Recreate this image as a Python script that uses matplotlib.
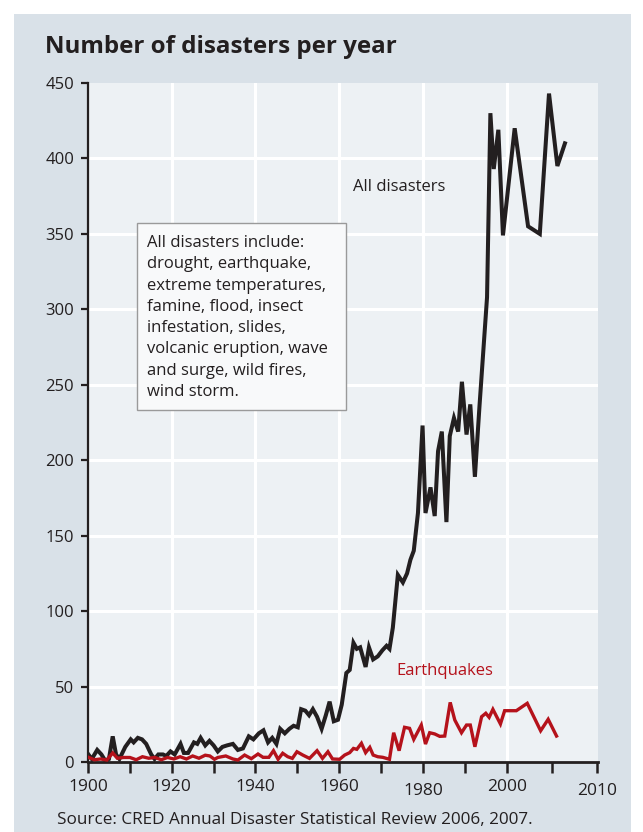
import matplotlib.pyplot as plt
from matplotlib.patches import Rectangle
from matplotlib.transforms import ScaledTranslation

# Data (x positions follow the chart's own year axis)
all_years = [1900.1, 1900.9, 1902.2, 1903.2, 1904.1, 1905.0, 1905.9, 1906.7, 1907.5, 1908.9,
             1910.2, 1910.9, 1911.9, 1912.9, 1913.9, 1915.1, 1915.9, 1916.8, 1917.9, 1918.7,
             1919.7, 1920.7, 1922.1, 1922.9, 1923.9, 1925.3, 1926.1, 1926.9, 1928.0, 1929.0,
             1930.0, 1931.0, 1932.1, 1933.2, 1934.6, 1935.8, 1937.0, 1938.4, 1939.5, 1940.8,
             1941.9, 1943.0, 1944.0, 1945.0, 1945.9, 1947.0, 1948.1, 1949.1, 1950.1, 1950.9,
             1951.9, 1952.8, 1953.7, 1954.7, 1955.8, 1956.8, 1957.7, 1958.7, 1959.7, 1960.6,
             1961.7, 1962.5, 1963.4, 1964.2, 1965.0, 1966.3, 1967.1, 1968.1, 1969.2, 1970.3,
             1971.3, 1972.0, 1972.8, 1974.0, 1975.2, 1976.2, 1977.0, 1977.8, 1978.8, 1979.9,
             1980.6, 1981.8, 1982.8, 1983.6, 1984.5, 1985.6, 1986.4, 1987.4, 1988.4, 1989.3,
             1990.4, 1991.3, 1992.4, 1993.5, 1994.3, 1995.3, 1996.1, 1996.9, 1998.0, 1999.1,
             2001.9, 2005.1, 2007.9, 2010.1, 2012.1, 2013.9]
all_values = [5, 2, 8, 5, 1, 2, 17, 5, 2, 10,
              15, 13, 16, 15, 12, 5, 2, 5, 5, 4,
              7, 5, 12, 6, 6, 13, 12, 16, 11, 14,
              11, 7, 10, 11, 12, 8, 9, 17, 15, 19,
              21, 13, 16, 12, 22, 19, 22, 24, 23, 35,
              34, 31, 35, 30, 22, 31, 40, 27, 28, 38,
              59, 61, 79, 75, 76, 63, 76, 68, 70, 74,
              77, 75, 89, 124, 119, 125, 134, 140, 165, 223,
              165, 182, 163, 206, 219, 159, 216, 228, 219, 252,
              217, 237, 189, 236, 268, 308, 430, 393, 419, 349,
              420, 355, 350, 443, 395, 410]

eq_years = [1900.2, 1901.5, 1903.0, 1904.5, 1905.9, 1907.0, 1908.5, 1910.0, 1911.5, 1913.0,
            1914.5, 1916.0, 1917.5, 1919.0, 1920.5, 1922.0, 1923.5, 1925.0, 1926.5, 1928.0,
            1929.1, 1930.2, 1931.0, 1932.9, 1934.6, 1935.8, 1937.4, 1939.0, 1940.6, 1941.8,
            1943.2, 1944.3, 1945.4, 1946.5, 1947.7, 1948.8, 1949.9, 1951.3, 1952.9, 1954.7,
            1956.0, 1957.3, 1958.4, 1960.1, 1961.3, 1962.5, 1963.4, 1964.2, 1965.3, 1966.3,
            1967.3, 1968.1, 1969.2, 1970.4, 1972.0, 1973.0, 1974.3, 1975.6, 1976.8, 1977.8,
            1979.6, 1980.6, 1981.6, 1982.8, 1984.0, 1985.2, 1986.5, 1987.6, 1989.2, 1990.4,
            1991.3, 1992.4, 1994.0, 1995.0, 1995.8, 1996.7, 1998.5, 1999.5, 2002.3, 2004.9,
            2008.1, 2009.9, 2011.9]
eq_values = [3, 1.5, 2, 1.3, 6, 2.5, 3, 3, 1.5, 3.5,
             2.5, 3, 1.5, 3, 2, 3.5, 2, 4, 2.5, 4.5,
             4, 1.8, 3, 4, 2, 1.3, 4.6, 2.2, 5.3, 3.1,
             3.1, 7.5, 1.8, 5.8, 3.5, 2.4, 6.8, 4.6, 2.4, 7.5,
             2.4, 6.8, 2, 1.8, 4.6, 6.2, 9, 8.4, 12.4, 6.2,
             9.7, 4.6, 3.5, 3.1, 1.8, 19.4, 7.5, 23, 22.3, 15,
             24.5, 11.9, 19.4, 18.6, 17, 17.2, 39.5, 27.8, 19.4, 24.5,
             24.5, 10.1, 30, 32.3, 29.6, 34.9, 25.2, 34, 34, 38.9,
             20.7, 28.3, 17.2]

x_ticks = [1900, 1910, 1920, 1930, 1940, 1950, 1960, 1970, 1980, 1990, 2000, 2010.8, 2021.5]
x_labels = ["1900", "", "1920", "", "1940", "", "1960", "", "1980", "", "2000", "", "2010"]
x_grid = [1920, 1940, 1960, 1980, 2000]
y_ticks = [0, 50, 100, 150, 200, 250, 300, 350, 400, 450]
y_grid = [50, 100, 150, 200, 250, 300, 350, 400]

box_text = ("All disasters include:\ndrought, earthquake,\nextreme temperatures,\n"
            "famine, flood, insect\ninfestation, slides,\nvolcanic eruption, wave\n"
            "and surge, wild fires,\nwind storm.")

dark = "#231f20"
red = "#b5121b"
plt.rcParams["font.family"] = ["Open Sans", "DejaVu Sans"]

fig = plt.figure(figsize=(6.43, 8.32), dpi=100)
fig.patch.set_facecolor("white")
# grey panel behind everything
fig.patches.append(Rectangle((14 / 643, 0), 617 / 643, 818 / 832, transform=fig.transFigure,
                             facecolor="#d9e1e8", edgecolor="none", zorder=-10))

ax = fig.add_axes([88 / 643, 1 - 762 / 832, 510 / 643, 679 / 832])
ax.set_facecolor("#edf1f4")

for g in x_grid:
    ax.axvline(g, color="white", lw=2.2, zorder=1)
for g in y_grid:
    ax.axhline(g, color="white", lw=2.2, zorder=1)

ax.plot(all_years, all_values, color=dark, lw=2.9, zorder=3, solid_joinstyle="miter")
ax.plot(eq_years, eq_values, color=red, lw=2.4, zorder=3, solid_joinstyle="miter")

ax.set_xlim(1900, 2021.8)
ax.set_ylim(0, 450)
ax.set_xticks(x_ticks)
ax.set_xticklabels(x_labels)
ax.set_yticks(y_ticks)

for s in ["top", "right"]:
    ax.spines[s].set_visible(False)
ax.spines["left"].set_linewidth(1.6)
ax.spines["bottom"].set_linewidth(2)
ax.spines["left"].set_color(dark)
ax.spines["bottom"].set_color(dark)
ax.tick_params(axis="x", length=8, width=1.8, color=dark, pad=4, labelsize=12.5, labelcolor=dark)
ax.tick_params(axis="y", length=5, width=1.6, color=dark, pad=5, labelsize=12, labelcolor=dark)

# 1980 and 2010 sit a little lower in the original
for lab in ax.get_xticklabels():
    if lab.get_text() in ("1980", "2010"):
        lab.set_transform(lab.get_transform() + ScaledTranslation(0, -3 / 72, fig.dpi_scale_trans))

# labels and note box
ax.text(1963.2, 381, "All disasters", color=dark, fontsize=12, va="center", ha="left", zorder=4)
ax.text(1973.7, 60, "Earthquakes", color=red, fontsize=12, va="center", ha="left", zorder=4)
ax.add_patch(Rectangle((49 / 510, 352 / 679), 209 / 510, 187 / 679, transform=ax.transAxes,
                       facecolor="#f8f9fa", edgecolor="#9a9a9a", lw=1, zorder=4))
ax.text(59 / 510, 527 / 679, box_text, transform=ax.transAxes, fontsize=12, color=dark,
        va="top", ha="left", linespacing=1.44, zorder=5)

fig.text(45 / 643, 1 - 53 / 832, "Number of disasters per year", fontsize=17.4, fontweight="bold",
         color=dark, ha="left", va="baseline")
fig.text(57 / 643, 1 - 824 / 832, "Source: CRED Annual Disaster Statistical Review 2006, 2007.",
         fontsize=12.3, color=dark, ha="left", va="baseline")

plt.savefig("out.png", dpi=100)
